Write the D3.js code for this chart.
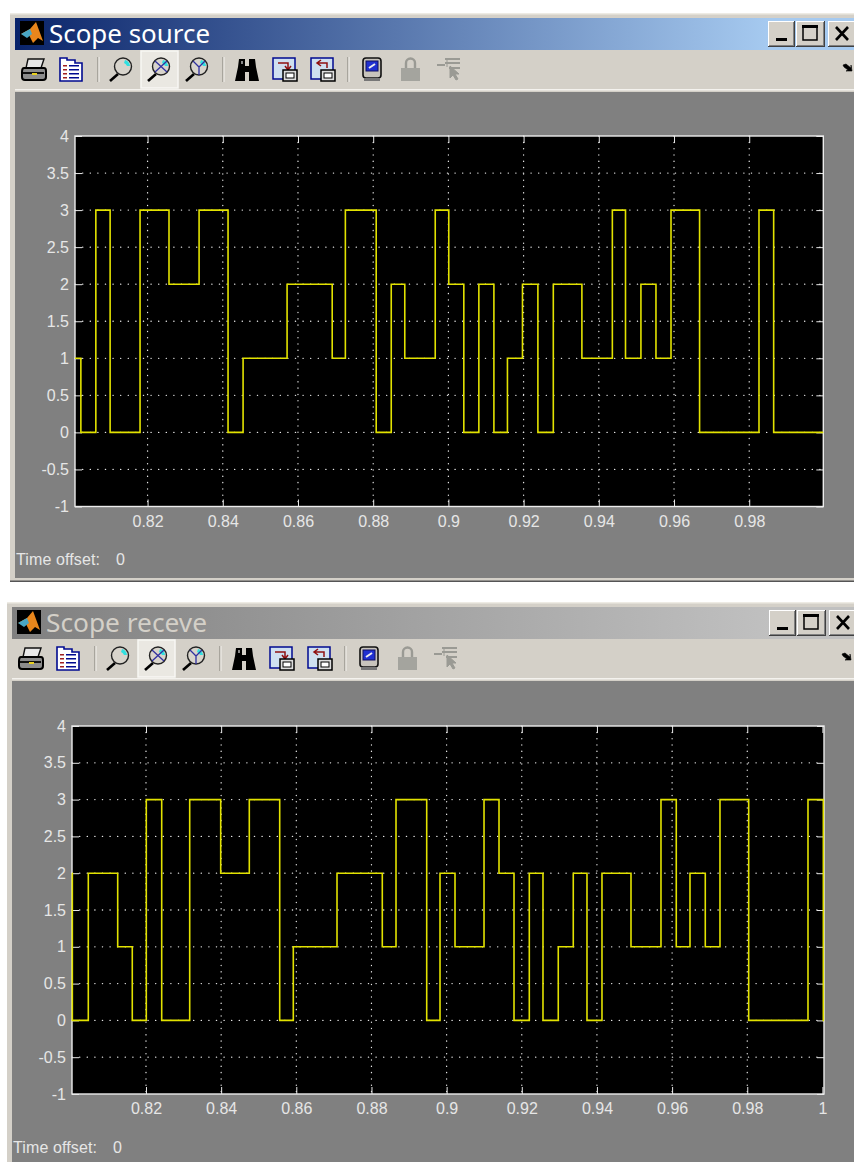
<!doctype html>
<html>
<head>
    <meta charset="utf-8" />
    <style>
        html, body { margin: 0; padding: 0; background: #fff; overflow: hidden; }
        svg { display: block; }
        text { font-family: 'Liberation Sans', Arial, sans-serif; }
        .tick text { font-size: 16px; fill: #e6e6e6; }
        .tick line { stroke: #e8e8e8; stroke-width: 1; }
        .domain { display: none; }
        .grid line { stroke: #e4e4e4; stroke-width: 1.3; stroke-linecap: round; }
        .signal { fill: none; stroke: #e2e200; stroke-width: 1.6; }
        .title { font-family: 'Noto Sans', sans-serif; font-size: 26px; }
        .offset { font-size: 16px; fill: #e6e6e6; }
    </style>
    <script src="https://d3js.org/d3.v7.min.js"></script>
</head>
<body>
<svg width="854" height="1162"></svg>
<script>
    // values
    const sourceTimes = [0.8007, 0.80226, 0.80624, 0.81004, 0.8180, 0.8257, 0.8337, 0.8414, 0.8454, 0.8571, 0.8691,
        0.8726, 0.8808, 0.8848, 0.8884, 0.8965, 0.9001, 0.9041, 0.9081, 0.9121, 0.9157, 0.9197, 0.9238, 0.9279,
        0.9355, 0.9436, 0.9471, 0.9512, 0.9552, 0.9592, 0.9668, 0.9826, 0.9865, 0.9997]
    const sourceValues = [1, 0, 3, 0, 3, 2, 3, 0, 1, 2, 1,
        3, 0, 2, 1, 3, 2, 0, 2, 0, 1, 2, 0, 2,
        1, 3, 1, 2, 1, 3, 0, 3, 0, 0]

    const receiveTimes = [0.80031, 0.8004, 0.80465, 0.81247, 0.81635, 0.82008, 0.82418, 0.83163, 0.83988, 0.84749,
        0.85558, 0.8592, 0.87083, 0.88288, 0.88653, 0.8947, 0.89824, 0.90223, 0.90995, 0.91394, 0.91793, 0.922,
        0.92564, 0.92971, 0.9337, 0.93735, 0.94134, 0.94906, 0.95704, 0.96111, 0.96476, 0.96883, 0.97274,
        0.98038, 0.99616, 1.00024, 1.00042]
    const receiveValues = [2, 0, 2, 1, 0, 3, 0, 3, 2, 3,
        0, 1, 2, 1, 3, 0, 2, 1, 3, 2, 0, 2,
        0, 1, 2, 0, 2, 1, 3, 1, 2, 1, 3,
        0, 3, 0, 0]

    const yTicks = [-1, -0.5, 0, 0.5, 1, 1.5, 2, 2.5, 3, 3.5, 4]
    const yTickLabels = ['-1', '-0.5', '0', '0.5', '1', '1.5', '2', '2.5', '3', '3.5', '4']
    const sourceXTicks = [0.82, 0.84, 0.86, 0.88, 0.9, 0.92, 0.94, 0.96, 0.98]
    const sourceXLabels = ['0.82', '0.84', '0.86', '0.88', '0.9', '0.92', '0.94', '0.96', '0.98']
    const receiveXTicks = [0.82, 0.84, 0.86, 0.88, 0.9, 0.92, 0.94, 0.96, 0.98, 1]
    const receiveXLabels = ['0.82', '0.84', '0.86', '0.88', '0.9', '0.92', '0.94', '0.96', '0.98', '1']

    const svg = d3.select('svg')
    const defs = svg.append('defs')

    function gradient(id, from, to, x1, x2) {
        const g = defs.append('linearGradient').attr('id', id)
            .attr('gradientUnits', 'userSpaceOnUse')
            .attr('x1', x1).attr('x2', x2).attr('y1', 0).attr('y2', 0)
        g.append('stop').attr('offset', 0).attr('stop-color', from)
        g.append('stop').attr('offset', 1).attr('stop-color', to)
    }
    gradient('activeBar', '#0a246a', '#a6caf0', 15, 770)
    gradient('idleBar', '#808080', '#c0c0c0', 12, 770)

    // --- toolbar icons, each drawn in a 25x25 box ---
    function icon(g, x, y) {
        return g.append('g').attr('transform', `translate(${x}, ${y})`)
    }
    function printer(g, x, y) {
        const i = icon(g, x, y)
        i.append('path').attr('d', 'M7 2h16l-3 9H5z').attr('fill', '#e8e8e8').attr('stroke', '#111').attr('stroke-width', 1.4)
        i.append('path').attr('d', 'M3 11h20q2 0 2 3v6q0 3-3 3H4q-3 0-3-3v-5q0-4 2-4z').attr('fill', '#8c8c8c').attr('stroke', '#000').attr('stroke-width', 2)
        i.append('rect').attr('x', 2).attr('y', 15).attr('width', 21).attr('height', 2).attr('fill', '#111')
        i.append('rect').attr('x', 11).attr('y', 16).attr('width', 5).attr('height', 2).attr('fill', '#e8d020')
    }
    function clipboard(g, x, y) {
        const i = icon(g, x, y)
        i.append('path').attr('d', 'M1 1h7v2h8v3h7v18H1z').attr('fill', '#fff').attr('stroke', '#000a90').attr('stroke-width', 1.6)
        ;[8, 12, 16, 20].forEach(d => {
            i.append('rect').attr('x', 4).attr('y', d).attr('width', 4).attr('height', 1.5).attr('fill', '#a02020')
            i.append('rect').attr('x', 10).attr('y', d).attr('width', 10).attr('height', 1.5).attr('fill', '#000a90')
        })
    }
    function magnifier(g, x, y, mark) {
        const i = icon(g, x, y)
        i.append('line').attr('x1', 2).attr('y1', 24).attr('x2', 10).attr('y2', 17).attr('stroke', '#000').attr('stroke-width', 2.6)
        i.append('circle').attr('cx', 15).attr('cy', 9.5).attr('r', 8.5).attr('fill', '#d8d4cc').attr('stroke', '#222').attr('stroke-width', 1.4)
        i.append('path').attr('d', 'M17 3a7 7 0 0 1 5 6l-3 0a5 5 0 0 0-3-3z').attr('fill', '#30e0e0')
        if (mark === 'x') i.append('path').attr('d', 'M9 4L21 15M21 4L9 15').attr('stroke', '#3030a0').attr('stroke-width', 1.3)
        if (mark === 'y') i.append('path').attr('d', 'M15 10L9 4M15 10L21 4M15 10V18').attr('stroke', '#3030a0').attr('stroke-width', 1.3).attr('fill', 'none')
    }
    function binoculars(g, x, y) {
        const i = icon(g, x, y)
        i.append('path').attr('d', 'M5 2h6v7h4V2h6l1 8 3 14h-10v-9h-4v9H1l3-14z').attr('fill', '#000')
        i.append('rect').attr('x', 7).attr('y', 4).attr('width', 2).attr('height', 3).attr('fill', '#888')
    }
    function transfer(g, x, y, back) {
        const i = icon(g, x, y)
        i.append('rect').attr('x', 1).attr('y', 1).attr('width', 22).attr('height', 21).attr('fill', '#cfe0f0').attr('stroke', '#000a90').attr('stroke-width', 1.5)
        i.append('path').attr('d', back ? 'M17 11V6H8M11 3L7 6l4 3' : 'M6 6h10v6M13 9l3 4 3-4').attr('stroke', '#901010').attr('stroke-width', 1.5).attr('fill', 'none')
        i.append('rect').attr('x', 11).attr('y', 13).attr('width', 14).attr('height', 11).attr('fill', '#ddd').attr('stroke', '#000').attr('stroke-width', 1.5)
        i.append('rect').attr('x', 14).attr('y', 16).attr('width', 8).attr('height', 5).attr('fill', '#fff').attr('stroke', '#000')
    }
    function scopeChip(g, x, y) {
        const i = icon(g, x, y)
        i.append('rect').attr('x', 1).attr('y', 1).attr('width', 18).attr('height', 20).attr('rx', 3).attr('fill', '#c8c4bc').attr('stroke', '#111').attr('stroke-width', 1.6)
        i.append('rect').attr('x', 4).attr('y', 4).attr('width', 12).attr('height', 10).attr('fill', '#2030d0').attr('stroke', '#101060')
        i.append('path').attr('d', 'M7 11L13 7').attr('stroke', '#eee').attr('stroke-width', 2)
        i.append('rect').attr('x', 2).attr('y', 21).attr('width', 16).attr('height', 3).attr('fill', '#777')
    }
    function lock(g, x, y) {
        const i = icon(g, x, y)
        i.append('path').attr('d', 'M6 11V6a4.5 4.5 0 0 1 9 0v5').attr('fill', 'none').attr('stroke', '#9a9a94').attr('stroke-width', 2.4)
        i.append('rect').attr('x', 1).attr('y', 11).attr('width', 19).attr('height', 13).attr('fill', '#a4a49e')
    }
    function cursorTool(g, x, y) {
        const i = icon(g, x, y)
        i.append('path').attr('d', 'M0 8h8M8 2h15M8 6h15M12 11h11').attr('stroke', '#9a9a94').attr('stroke-width', 2.2)
        i.append('path').attr('d', 'M10 3v7M13 9l0 12 3-3 3 5 2-1-3-5h4z').attr('fill', '#9a9a94').attr('stroke', '#9a9a94')
    }

    function bevelButton(g, x, y, w, h) {
        g.append('rect').attr('x', x).attr('y', y).attr('width', w).attr('height', h).attr('fill', '#404040')
        g.append('rect').attr('x', x).attr('y', y).attr('width', w - 1).attr('height', h - 1).attr('fill', '#fff')
        g.append('rect').attr('x', x + 1).attr('y', y + 1).attr('width', w - 2).attr('height', h - 2).attr('fill', '#808080')
        g.append('rect').attr('x', x + 1).attr('y', y + 1).attr('width', w - 3).attr('height', h - 3).attr('fill', '#d4d0c8')
    }

    function drawScope(o) {
        const top = o.top, left = o.left
        const win = svg.append('g')

        // window frame
        win.append('rect').attr('x', left).attr('y', top).attr('width', 854 - left).attr('height', o.bottom - top).attr('fill', '#d4d0c8')
        win.append('rect').attr('x', left).attr('y', top).attr('width', 854 - left).attr('height', 1.5).attr('fill', '#eeebe4')
        if (o.closed) win.append('rect').attr('x', left).attr('y', o.bottom - 1.5).attr('width', 854 - left).attr('height', 1.5).attr('fill', '#555')
        win.append('rect').attr('x', left + 5).attr('y', top + 5).attr('width', 854 - left).attr('height', 32).attr('fill', `url(#${o.bar})`)
        win.append('rect').attr('x', left + 5).attr('y', top + 76).attr('width', 854 - left).attr('height', 1.5).attr('fill', '#f4f2ee')
        win.append('rect').attr('x', left + 5).attr('y', top + 79).attr('width', 854 - left)
            .attr('height', (o.closed ? o.bottom - 4 : o.bottom) - top - 79).attr('fill', '#808080')

        // title bar
        const logo = icon(win, left + 10, top + 8)
        logo.append('rect').attr('width', 24).attr('height', 24).attr('fill', '#000')
        logo.append('path').attr('d', 'M1 13L10 8 16 1 23 20 18 17 13 22 9 14z').attr('fill', '#e8861c')
        logo.append('path').attr('d', 'M1 13L10 8 12 13 7 17z').attr('fill', '#49a6c4')
        win.append('text').attr('class', 'title').attr('x', left + 39).attr('y', top + 30)
            .attr('textLength', 161).attr('lengthAdjust', 'spacingAndGlyphs').attr('fill', o.titleColor).text(o.title)

        // caption buttons
        const bx = o.buttonsX, by = top + 8
        bevelButton(win, bx, by, 27, 26)
        bevelButton(win, bx + 28, by, 29, 26)
        bevelButton(win, bx + 60, by, 30, 26)
        win.append('rect').attr('x', bx + 8).attr('y', by + 17).attr('width', 11).attr('height', 3).attr('fill', '#000')
        win.append('rect').attr('x', bx + 35).attr('y', by + 5).attr('width', 14).attr('height', 14).attr('fill', 'none').attr('stroke', '#000').attr('stroke-width', 1.5)
        win.append('rect').attr('x', bx + 34).attr('y', by + 4).attr('width', 16).attr('height', 3).attr('fill', '#000')
        win.append('path').attr('d', `M${bx + 68} ${by + 6}l12 13M${bx + 80} ${by + 6}l-12 13`).attr('stroke', '#000').attr('stroke-width', 2.6)

        // toolbar
        const ty = top + 44
        printer(win, left + 11, ty)
        clipboard(win, left + 49, ty)
        ;[87, 212, 337].forEach(d => {
            win.append('rect').attr('x', left + d).attr('y', ty).attr('width', 1.5).attr('height', 25).attr('fill', '#a8a59d')
            win.append('rect').attr('x', left + d + 1.5).attr('y', ty).attr('width', 1).attr('height', 25).attr('fill', '#f4f2ee')
        })
        magnifier(win, left + 98, ty)
        win.append('rect').attr('x', left + 131).attr('y', top + 38).attr('width', 37).attr('height', 37).attr('fill', '#eae8e2').attr('stroke', '#f8f7f4').attr('stroke-width', 1.5)
        magnifier(win, left + 136, ty, 'x')
        magnifier(win, left + 174, ty, 'y')
        binoculars(win, left + 224, ty)
        transfer(win, left + 262, ty, false)
        transfer(win, left + 300, ty, true)
        scopeChip(win, left + 352, ty)
        lock(win, left + 390, ty)
        cursorTool(win, left + 427, ty)
        win.append('path').attr('d', `M${o.arrowX} ${ty + 8}l3 -1 5 4 0 -3 1 6 -6 0 2 -1 -4 -3z`).attr('fill', '#000').attr('stroke', '#000').attr('stroke-width', 0.6)

        // plot
        const x = d3.scaleLinear().domain(o.xDomain).range([o.plot.left, o.plot.right])
        const y = d3.scaleLinear().domain([-1, 4]).range([o.plot.bottom, o.plot.top])
        const w = o.plot.right - o.plot.left, h = o.plot.bottom - o.plot.top

        win.append('rect').attr('x', o.plot.left).attr('y', o.plot.top).attr('width', w).attr('height', h).attr('fill', '#000')

        const grid = win.append('g').attr('class', 'grid')
        grid.selectAll('.h').data(yTicks.slice(1, -1)).enter().append('line')
            .attr('x1', o.plot.left).attr('x2', o.plot.right)
            .attr('y1', d => y(d)).attr('y2', d => y(d))
            .attr('stroke-dasharray', '0.2 7.4')
        grid.selectAll('.v').data(o.xTicks.filter(d => d < 1)).enter().append('line')
            .attr('x1', d => x(d)).attr('x2', d => x(d))
            .attr('y1', o.plot.top).attr('y2', o.plot.bottom)
            .attr('stroke-dasharray', '0.2 6.1')

        win.append('g').attr('transform', `translate(${o.plot.left}, 0)`)
            .call(d3.axisLeft(y).tickValues(yTicks).tickSize(-7).tickPadding(6).tickFormat((d, i) => yTickLabels[i]))
        win.append('g').attr('transform', `translate(${o.plot.right}, 0)`)
            .call(d3.axisRight(y).tickValues(yTicks).tickSize(-7).tickFormat(''))
        win.append('g').attr('transform', `translate(0, ${o.plot.bottom})`)
            .call(d3.axisBottom(x).tickValues(o.xTicks).tickSize(-7).tickPadding(9).tickFormat((d, i) => o.xLabels[i]))
        win.append('g').attr('transform', `translate(0, ${o.plot.top})`)
            .call(d3.axisTop(x).tickValues(o.xTicks).tickSize(-7).tickFormat(''))
        win.selectAll('.tick text').attr('font-family', null).attr('font-size', null)

        win.append('rect').attr('x', o.plot.left).attr('y', o.plot.top).attr('width', w).attr('height', h)
            .attr('fill', 'none').attr('stroke', '#ececec').attr('stroke-width', 1.4)

        const points = o.times.map((t, i) => [t, o.values[i]])
        const line = d3.line().x(d => x(d[0])).y(d => y(d[1])).curve(d3.curveStepAfter)
        win.append('path').attr('class', 'signal').attr('d', line(points))

        win.append('text').attr('class', 'offset').attr('x', left + 6).attr('y', o.offsetY).attr('textLength', 84).text('Time offset:')
        win.append('text').attr('class', 'offset').attr('x', left + 106).attr('y', o.offsetY).text('0')
    }

    drawScope({
        title: 'Scope source', bar: 'activeBar', titleColor: '#ffffff',
        top: 13, left: 10, bottom: 582, closed: true, buttonsX: 768, arrowX: 843, offsetY: 565,
        plot: { left: 75, right: 823.3, top: 136, bottom: 506.5 },
        xDomain: [0.8007, 0.9997], xTicks: sourceXTicks, xLabels: sourceXLabels,
        times: sourceTimes, values: sourceValues
    })
    drawScope({
        title: 'Scope receve', bar: 'idleBar', titleColor: '#d4d0c8',
        top: 602, left: 7, bottom: 1162, closed: false, buttonsX: 769, arrowX: 842, offsetY: 1153,
        plot: { left: 72, right: 824, top: 726, bottom: 1094 },
        xDomain: [0.80031, 1.00042], xTicks: receiveXTicks, xLabels: receiveXLabels,
        times: receiveTimes, values: receiveValues
    })
</script>
</body>
</html>
